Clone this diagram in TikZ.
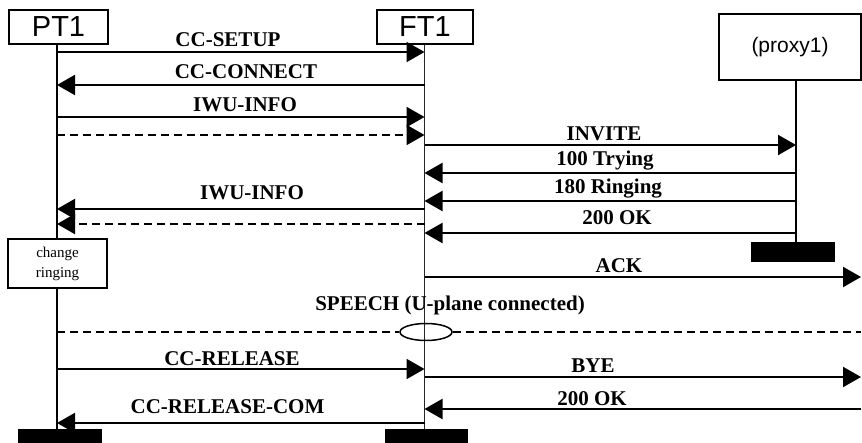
\documentclass[tikz,border=0pt]{standalone}
\usepackage{fontspec}
\setmainfont{Liberation Serif}
\newfontfamily\arialf{Liberation Sans}
\usetikzlibrary{arrows.meta,shapes.geometric}
\tikzset{
  hdr/.style={draw, line width=1.5pt, fill=white, inner sep=0pt, font=\arialf\fontsize{29}{30}\selectfont},
  bar/.style={fill=black, inner sep=0pt, minimum height=14pt},
  life/.style={line width=2pt},
  msg/.style={line width=2pt, -{Triangle[length=18pt,width=20pt]}},
  dmsg/.style={msg, dash pattern=on 8pt off 5pt},
  lbl/.style={font=\bfseries\fontsize{21}{22}\selectfont, inner sep=0pt},
  note/.style={draw, line width=1.5pt, fill=white, inner sep=0pt, align=center, font=\fontsize{15}{20}\selectfont},
}
\begin{document}
\begin{tikzpicture}[x=1pt,y=-1pt]
\useasboundingbox (0,0) rectangle (862,443);
% lifeline x positions and right edge
\coordinate (LP) at (57,0);
\coordinate (LF) at (424.5,0);
\coordinate (LX) at (796,0);
\coordinate (RE) at (861,0);
% headers
\node[hdr, minimum width=99pt, minimum height=34pt] (pt1) at (58.5,27) {PT1};
\node[hdr, minimum width=96pt, minimum height=34pt] (ft1) at (425,27) {FT1};
\node[hdr, minimum width=142pt, minimum height=66pt, font=\arialf\fontsize{21}{24}\selectfont] (px1) at (790,47) {(proxy1)};
% end bars
\node[bar, minimum width=84pt] (ptend) at (60,436) {};
\node[bar, minimum width=83pt] (ftend) at (426.5,436) {};
\node[bar, minimum width=84pt, minimum height=20pt] (pxend) at (793,252) {};
% lifelines
\draw[life] (pt1.south -| LP) -- (ptend.north -| LP);
\draw[line width=1.3pt, black!85] (ft1.south -| LF) -- (ftend.north -| LF);
\draw[life] (px1.south -| LX) -- (pxend.north -| LX);
% message rows
\coordinate (m1) at (0,52);
\coordinate (m2) at (0,85);
\coordinate (m3) at (0,117);
\coordinate (m4) at (0,135);
\coordinate (m5) at (0,145);
\coordinate (m6) at (0,173);
\coordinate (m7) at (0,201);
\coordinate (m8) at (0,209);
\coordinate (m9) at (0,224);
\coordinate (m10) at (0,233);
\coordinate (m11) at (0,277);
\coordinate (m12) at (0,332);
\coordinate (m13) at (0,369);
\coordinate (m14) at (0,377);
\coordinate (m15) at (0,409);
\coordinate (m16) at (0,423);
% messages
\draw[msg] (LP |- m1) -- (LF |- m1);
\node[lbl] (t1) at (228,40) {CC-SETUP};
\draw[msg] (LF |- m2) -- (LP |- m2);
\node[lbl] (t2) at (246,72) {CC-CONNECT};
\draw[msg] (LP |- m3) -- (LF |- m3);
\node[lbl] (t3) at (245,105) {IWU-INFO};
\draw[dmsg] (LP |- m4) -- (LF |- m4);
\draw[msg] (LF |- m5) -- (LX |- m5);
\node[lbl] (t5) at (604,134) {INVITE};
\draw[msg] (LX |- m6) -- (LF |- m6);
\node[lbl] (t6) at (605,161) {100 Trying};
\draw[msg] (LX |- m7) -- (LF |- m7);
\node[lbl] (t7) at (608,189) {180 Ringing};
\draw[msg] (LF |- m8) -- (LP |- m8);
\node[lbl] (t8) at (252,193) {IWU-INFO};
\draw[dmsg] (LF |- m9) -- (LP |- m9);
\draw[msg] (LX |- m10) -- (LF |- m10);
\node[lbl] (t10) at (617,218) {200 OK};
% change ringing note
\node[note, minimum width=99pt, minimum height=49pt] (cr) at (57.5,263.5) {change\\ringing};
\draw[msg] (LF |- m11) -- (RE |- m11);
\node[lbl] (t11) at (619,266) {ACK};
% speech
\node[draw, ellipse, line width=1.5pt, minimum width=52pt, minimum height=17pt, inner sep=0pt] (sp) at (426,332) {};
\draw[line width=2pt, dash pattern=on 8pt off 5pt] (LP |- m12) -- (sp.west);
\draw[line width=2pt, dash pattern=on 8pt off 5pt] (sp.east) -- (RE |- m12);
\node[lbl] (t12) at (450,305) {SPEECH (U-plane connected)};
% release
\draw[msg] (LP |- m13) -- (LF |- m13);
\node[lbl] (t13) at (232,359) {CC-RELEASE};
\draw[msg] (LF |- m14) -- (RE |- m14);
\node[lbl] (t14) at (593,366) {BYE};
\draw[msg] (RE |- m15) -- (LF |- m15);
\node[lbl] (t15) at (592,399) {200 OK};
\draw[msg] (LF |- m16) -- (LP |- m16);
\node[lbl] (t16) at (227.5,407) {CC-RELEASE-COM};
\end{tikzpicture}
\end{document}
